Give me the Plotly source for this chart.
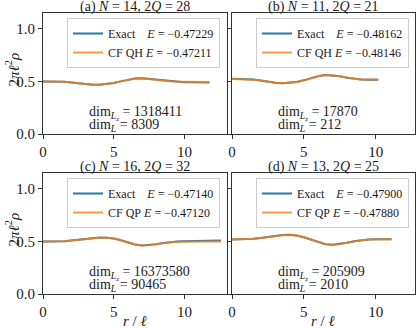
import plotly.graph_objects as go

# radial coordinate r / l and density 2*pi*l^2*rho
r_a = [0, 0.5, 1, 1.5, 2, 2.5, 3, 3.5, 4, 4.5, 5, 5.5, 6, 6.5, 7, 7.5, 8, 8.5, 9, 9.5, 10, 10.5, 11, 11.5, 11.76]
exact_a = [0.500, 0.500, 0.499, 0.496, 0.490, 0.481, 0.471, 0.467, 0.467, 0.473, 0.484, 0.500, 0.515, 0.527, 0.529,
           0.523, 0.514, 0.505, 0.498, 0.494, 0.492, 0.491, 0.490, 0.490, 0.490]
cf_a = [0.500, 0.500, 0.499, 0.496, 0.490, 0.481, 0.472, 0.467, 0.467, 0.473, 0.484, 0.500, 0.515, 0.527, 0.529,
        0.524, 0.515, 0.506, 0.500, 0.497, 0.496, 0.495, 0.495, 0.495, 0.495]

r_b = [0, 0.5, 1, 1.5, 2, 2.5, 3, 3.5, 4, 4.5, 5, 5.5, 6, 6.5, 7, 7.5, 8, 8.5, 9, 9.5, 10, 10.18]
exact_b = [0.524, 0.524, 0.522, 0.517, 0.508, 0.497, 0.488, 0.483, 0.485, 0.494, 0.510, 0.530, 0.550, 0.561, 0.558,
           0.548, 0.535, 0.524, 0.518, 0.516, 0.516, 0.516]
cf_b = [0.523, 0.523, 0.521, 0.516, 0.508, 0.497, 0.488, 0.483, 0.485, 0.494, 0.510, 0.530, 0.549, 0.560, 0.558,
        0.548, 0.535, 0.525, 0.519, 0.517, 0.517, 0.517]

r_c = [0, 0.5, 1, 1.5, 2, 2.5, 3, 3.5, 4, 4.5, 5, 5.5, 6, 6.5, 7, 7.5, 8, 8.5, 9, 9.5, 10, 10.5, 11, 11.5, 12, 12.57]
exact_c = [0.498, 0.498, 0.499, 0.502, 0.508, 0.516, 0.525, 0.532, 0.536, 0.535, 0.527, 0.511, 0.490, 0.470, 0.460,
           0.463, 0.473, 0.485, 0.494, 0.499, 0.502, 0.504, 0.505, 0.506, 0.507, 0.508]
cf_c = [0.498, 0.498, 0.499, 0.502, 0.508, 0.516, 0.525, 0.532, 0.535, 0.534, 0.527, 0.511, 0.490, 0.471, 0.461,
        0.463, 0.473, 0.485, 0.493, 0.497, 0.499, 0.500, 0.500, 0.500, 0.500, 0.500]

r_d = [0, 0.5, 1, 1.5, 2, 2.5, 3, 3.5, 4, 4.5, 5, 5.5, 6, 6.5, 7, 7.5, 8, 8.5, 9, 9.5, 10, 10.5, 11, 11.1]
exact_d = [0.517, 0.518, 0.520, 0.525, 0.533, 0.543, 0.553, 0.560, 0.562, 0.556, 0.540, 0.517, 0.492, 0.473, 0.467,
           0.474, 0.488, 0.502, 0.512, 0.518, 0.520, 0.521, 0.521, 0.521]
cf_d = [0.517, 0.518, 0.520, 0.525, 0.533, 0.543, 0.552, 0.559, 0.561, 0.555, 0.540, 0.517, 0.493, 0.474, 0.468,
        0.474, 0.488, 0.502, 0.512, 0.518, 0.520, 0.521, 0.521, 0.521]

titles = ["(a) <i>N</i> = 14, 2<i>Q</i> = 28", "(b) <i>N</i> = 11, 2<i>Q</i> = 21",
          "(c) <i>N</i> = 16, 2<i>Q</i> = 32", "(d) <i>N</i> = 13, 2<i>Q</i> = 25"]
cf_names = ["CF QH", "CF QH", "CF QP", "CF QP"]
e_exact = ["−0.47229", "−0.48162", "−0.47140", "−0.47900"]
e_cf = ["−0.47211", "−0.48146", "−0.47120", "−0.47880"]
dim_lz = ["1318411", "17870", "16373580", "205909"]
dim_l = ["8309", "212", "90465", "2010"]

FONT = "Liberation Serif"
AX = "#333333"
TXT = "#1a1a1a"
BLUE = "#1f77b4"
ORANGE = "rgba(255,127,14,0.8)"

panels = [(r_a, exact_a, cf_a), (r_b, exact_b, cf_b), (r_c, exact_c, cf_c), (r_d, exact_d, cf_d)]

# pixel geometry of the 416x329 canvas
W, H = 416, 329
xpx = [(43, 227), (232, 414.5)]
ypx = [(13, 134), (173, 294)]
xmax = [13, 12.7]

fig = go.Figure()
annotations = []
layout = dict(
    width=W, height=H, margin=dict(l=0, r=0, t=0, b=0, autoexpand=False),
    paper_bgcolor="white", plot_bgcolor="white",
    font=dict(family=FONT, size=13, color=TXT),
    showlegend=True,
)
nbsp = "\u00a0"
for i, (r, ex, cf) in enumerate(panels):
    row, col = divmod(i, 2)
    sfx = "" if i == 0 else str(i + 1)
    leg = "legend" + sfx
    fig.add_trace(go.Scatter(x=r, y=ex, mode="lines", line=dict(color=BLUE, width=2),
                             name="Exact" + nbsp * 4 + "<i>E</i> = " + e_exact[i],
                             xaxis="x" + sfx, yaxis="y" + sfx, legend=leg))
    fig.add_trace(go.Scatter(x=r, y=cf, mode="lines", line=dict(color=ORANGE, width=2),
                             name=cf_names[i] + nbsp + "<i>E</i> = " + e_cf[i],
                             xaxis="x" + sfx, yaxis="y" + sfx, legend=leg))
    x0, x1 = xpx[col]
    y0, y1 = ypx[row]
    common = dict(showline=True, mirror=True, linecolor=AX, linewidth=1, ticks="outside",
                  ticklen=4, tickcolor=AX, showgrid=False, zeroline=False, automargin=False,
                  tickfont=dict(family=FONT, size=15, color=TXT))
    layout["xaxis" + sfx] = dict(common, domain=[x0 / W, x1 / W], range=[0, xmax[col]], anchor="y" + sfx,
                                 tickvals=[0, 5, 10])
    layout["yaxis" + sfx] = dict(common, domain=[1 - y1 / H, 1 - y0 / H], range=[0, 1.15], anchor="x" + sfx,
                                 tickvals=[0, 0.5, 1.0], ticktext=["0.0", "0.5", "1.0"],
                                 showticklabels=(col == 0))
    right_px = 220 if col == 0 else 409
    top_px = 18 if row == 0 else 178
    layout[leg] = dict(x=right_px / W, y=1 - top_px / H, xanchor="right", yanchor="top",
                       xref="paper", yref="paper", bgcolor="rgba(255,255,255,0.8)",
                       bordercolor="#cccccc", borderwidth=1, font=dict(family=FONT, size=12, color=TXT),
                       itemwidth=30, tracegroupgap=0)
    xc = (x0 + x1) / 2
    annotations.append(dict(text=titles[i], x=xc / W, y=1 - (y0 - 6) / H, xref="paper", yref="paper",
                            showarrow=False, font=dict(family=FONT, size=14), xanchor="center", yanchor="middle"))
    dx = 87 if col == 0 else 276
    annotations.append(dict(text="dim<sub><i>L<sub>z</sub></i></sub> = " + dim_lz[i],
                            x=dx / W, y=1 - (y0 + 100) / H, xref="paper", yref="paper", showarrow=False,
                            xanchor="left", yanchor="middle", font=dict(family=FONT, size=14)))
    annotations.append(dict(text="dim<sub><i>L</i></sub> = " + dim_l[i],
                            x=dx / W, y=1 - (y0 + 112) / H, xref="paper", yref="paper", showarrow=False,
                            xanchor="left", yanchor="middle", font=dict(family=FONT, size=14)))
    if col == 0:
        annotations.append(dict(text="2<i>πℓ</i><sup>2</sup><i>ρ</i>", x=12 / W, y=1 - ((y0 + y1) / 2 - 4) / H,
                                xref="paper", yref="paper", showarrow=False, textangle=-90,
                                xanchor="center", yanchor="middle", font=dict(family=FONT, size=15)))
    if row == 1:
        annotations.append(dict(text="<i>r</i> / <i>ℓ</i>", x=xc / W, y=1 - 321 / H,
                                xref="paper", yref="paper", showarrow=False,
                                xanchor="center", yanchor="middle", font=dict(family=FONT, size=15)))
layout["annotations"] = annotations
fig.update_layout(**layout)
fig.write_html("out.html", config={"displayModeBar": False},
               post_script="document.body.style.margin='0';")
